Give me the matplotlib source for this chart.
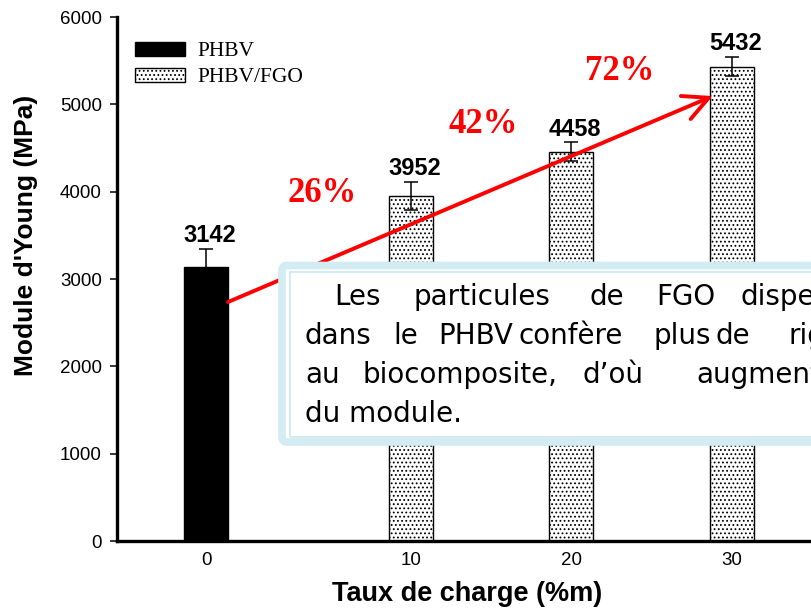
import numpy as np
import matplotlib
matplotlib.use("Agg")
import matplotlib.pyplot as plt
from matplotlib.patches import FancyBboxPatch, Rectangle
from matplotlib.transforms import IdentityTransform

# data
taux = ["0", "10", "20", "30"]
phbv = [3142]
phbv_err = [200]
fgo = [3952, 4458, 5432]
fgo_err = [160, 105, 105]
gains = ["26%", "42%", "72%"]
note_words = [
    ["Les", "particules", "de", "FGO", "dispersées"],
    ["dans", "le", "PHBV", "confère", "plus", "de", "rigidité"],
    ["au", "biocomposite,", "d\u2019où", "augmentation"],
    ["du module."],
]

W, H = 812, 611


def fx(x):
    return x / W


def fy(y):
    return 1 - y / H


plt.rcParams["hatch.linewidth"] = 0.8
fig = plt.figure(figsize=(W / 100, H / 100), dpi=100)
ax = fig.add_axes([117 / W, 70 / H, (838 - 117) / W, 524 / H])

pos = np.arange(len(taux))
w = 0.274
err_kw = dict(elinewidth=1.1, capthick=1.1, ecolor="black")
b1 = ax.bar(pos[:1] - w / 2, phbv, w, yerr=phbv_err, color="black", edgecolor="black",
            lw=1, capsize=5, error_kw=err_kw, label="PHBV", zorder=2)
b2 = ax.bar(pos[1:] + w / 2, fgo, w, yerr=fgo_err, color="white", edgecolor="black",
            hatch="....", lw=1, capsize=5, error_kw=err_kw, label="PHBV/FGO", zorder=2)

xs = list(pos[:1] - w / 2) + list(pos[1:] + w / 2)
vals = phbv + fgo
errs = phbv_err + fgo_err
for x, v, e in zip(xs, vals, errs):
    ax.annotate(str(v), (x, v + e), xytext=(3, 5), textcoords="offset points",
                ha="center", va="baseline", fontsize=17, fontweight="bold",
                family="Liberation Sans")

ax.set_xlim(-0.692, 3.8)
ax.set_ylim(0, 6000)
ax.set_yticks(np.arange(0, 6001, 1000))
ax.set_xticks(xs)
ax.set_xticklabels(taux)
for lab in ax.get_xticklabels() + ax.get_yticklabels():
    lab.set_family("Liberation Sans")
ax.tick_params(axis="x", length=0, pad=8, labelsize=13.5)
ax.tick_params(axis="y", direction="out", length=5, width=1.1, pad=6, labelsize=13.5)
for s in ["top", "right"]:
    ax.spines[s].set_visible(False)
for s in ["left", "bottom"]:
    ax.spines[s].set_linewidth(2.4)

# red trend arrow
ax.annotate("", xy=(3.02, 5095), xytext=(0, 2737),
            arrowprops=dict(arrowstyle="->,head_length=0.9,head_width=0.45", color="red",
                            lw=2.8, mutation_scale=20, shrinkA=0, shrinkB=0), zorder=3)

gain_xy = [(322, 193), (483, 124), (620, 72)]
for (x, y), g in zip(gain_xy, gains):
    fig.text(fx(x), fy(y), g, ha="center", va="center", color="red", fontsize=25,
             fontweight="bold", family="Liberation Serif")

ax.legend(loc="upper left", bbox_to_anchor=(fx(135), fy(42)), bbox_transform=fig.transFigure,
          frameon=False, prop=dict(family="Liberation Serif", size=15.5),
          handlelength=2.33, handleheight=0.6, handletextpad=0.55, labelspacing=0.3,
          borderpad=0, borderaxespad=0)

fig.text(fx(26), fy(235), "Module d'Young (MPa)", rotation=90, ha="center", va="center",
         fontsize=19, fontweight="bold", family="Liberation Sans")
fig.text(fx(467), fy(594), "Taux de charge (%m)", ha="center", va="center",
         fontsize=19.5, fontweight="bold", family="Liberation Sans")

# text box
box_col = "#d3ebf2"
outer = FancyBboxPatch((282, H - 442), 700, 176.5, boxstyle="round,pad=0,rounding_size=5",
                       transform=IdentityTransform(), fc="white", ec=box_col, lw=5.5, zorder=5)
inner = Rectangle((289.5, H - 436.5), 700, 164.5, transform=IdentityTransform(),
                  fc="none", ec=box_col, lw=1.5, zorder=5.1)
fig.add_artist(outer)
fig.add_artist(inner)

word_x = [
    [334, 414, 590, 656, 741],
    [305, 393, 438, 519, 654, 716, 789],
    [305, 363, 583, 696],
    [305],
]
line_y = [305, 344, 383, 422]
for words, wx, y in zip(note_words, word_x, line_y):
    for word, x in zip(words, wx):
        fig.text(fx(x), fy(y), word, fontsize=20, family="DejaVu Sans", va="baseline",
                 ha="left", zorder=6)

fig.savefig("out.png", dpi=100)
